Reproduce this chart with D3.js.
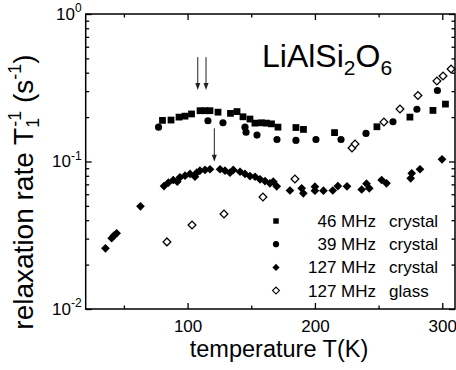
<!DOCTYPE html>
<html>
<head>
<meta charset="utf-8">
<script src="https://cdn.jsdelivr.net/npm/d3@7"></script>
<style>
  body { margin: 0; background: #fff; }
  svg { display: block; font-family: "Liberation Sans", Arial, Helvetica, sans-serif; }
</style>
</head>
<body>
<div id="chart"></div>
<script>
// 46 MHz crystal (squares)
const sqT = [80.3, 87.0, 93.3, 98.0, 103.1, 109.8, 113.7, 117.6, 123.9, 133.7, 138.8, 143.5, 149.0, 152.9,
  158.0, 162.0, 165.9, 171.0, 185.1, 191.0, 215.4, 248.7, 274.6, 292.7, 302.5];
const sqR = [0.190, 0.191, 0.200, 0.203, 0.210, 0.221, 0.221, 0.221, 0.216, 0.212, 0.218, 0.201, 0.194, 0.182,
  0.183, 0.182, 0.180, 0.171, 0.170, 0.165, 0.157, 0.172, 0.200, 0.222, 0.245];

// 39 MHz crystal (circles)
const ciT = [77.2, 116.0, 127.8, 145.1, 145.9, 154.5, 170.2, 185.1, 200.8, 220.5, 240.1, 261.3, 280.1, 296.2];
const ciR = [0.171, 0.189, 0.183, 0.171, 0.158, 0.151, 0.141, 0.139, 0.141, 0.141, 0.155, 0.186, 0.226, 0.303];

// 127 MHz crystal (filled diamonds)
const diT = [35.5, 40.4, 42.2, 44.3, 63.0, 81.5, 84.9, 88.8, 91.9, 94.0, 98.0, 101.9, 105.8, 107.2, 109.7,
  113.7, 117.6, 125.5, 129.4, 133.3, 135.9, 141.2, 145.1, 149.0, 153.0, 156.9, 160.8, 164.7, 167.3, 170.0,
  180.4, 189.6, 190.9, 200.0, 200.0, 206.7, 214.0, 218.0, 225.2, 236.7, 240.5, 242.7, 252.4, 256.2, 275.2,
  276.0, 282.5, 299.8];
const diR = [0.0258, 0.0302, 0.0315, 0.0326, 0.0497, 0.0682, 0.0718, 0.0749, 0.0730, 0.0781, 0.0801, 0.0823,
  0.0788, 0.0840, 0.0866, 0.0876, 0.0886, 0.0886, 0.0866, 0.0840, 0.0876, 0.0852, 0.0823, 0.0797, 0.0788,
  0.0757, 0.0737, 0.0711, 0.0730, 0.0679, 0.0636, 0.0658, 0.0609, 0.0675, 0.0634, 0.0634, 0.0636, 0.0682,
  0.0679, 0.0646, 0.0707, 0.0658, 0.0749, 0.0711, 0.0769, 0.0832, 0.0886, 0.1035];

// 127 MHz glass (open diamonds)
const glT = [83.8, 103.5, 128.6, 159.2, 184.3, 229.1, 231.5, 254.2, 266.8, 280.9, 295.8, 300.6, 306.9];
const glR = [0.0285, 0.0371, 0.0441, 0.0574, 0.0761, 0.1235, 0.1314, 0.1853, 0.227, 0.280, 0.351, 0.380, 0.424];

// arrows marking maxima
const arrowT = [108, 114.5, 121];
const arrowTop = [0.51, 0.51, 0.168];
const arrowTip = [0.305, 0.305, 0.0997];

const legendFreq = ["46 MHz", "39 MHz", "127 MHz", "127 MHz"];
const legendKind = ["crystal", "crystal", "crystal", "glass"];

const xMajor = [100, 200, 300];
const xMinor = [50, 150, 250];
const yMajor = [0.01, 0.1, 1];
const yExp = ["-2", "-1", "0"];

const W = 456, H = 370;
const mLeft = 85.7, mTop = 14, mRight = 455, mBottom = 309;

const svg = d3.select("#chart").append("svg").attr("width", W).attr("height", H);

const x = d3.scaleLinear().domain([20, 310]).range([mLeft, mRight]);
const y = d3.scaleLog().domain([0.01, 1]).range([mBottom, mTop]);

const yMinor = [];
[0.01, 0.1].forEach(d => { for (let k = 2; k <= 9; k++) yMinor.push(d * k); });

function tickAxis(axis, tr) {
  const g = svg.append("g").attr("transform", tr).call(axis);
  g.select(".domain").remove();
  g.selectAll("line").attr("stroke", "#000").attr("stroke-width", 1.3);
  g.selectAll("text").attr("font-size", 17).attr("fill", "#000");
  g.attr("font-family", null).attr("font-size", null);
  return g;
}

// bottom
tickAxis(d3.axisBottom(x).tickValues(xMajor).tickSizeInner(-6).tickSizeOuter(0).tickPadding(11).tickFormat(d3.format("d")),
  `translate(0,${mBottom})`);
tickAxis(d3.axisBottom(x).tickValues(xMinor).tickSizeInner(-3.5).tickSizeOuter(0).tickFormat(""), `translate(0,${mBottom})`);
// top
tickAxis(d3.axisTop(x).tickValues(xMajor).tickSizeInner(-6).tickSizeOuter(0).tickFormat(""), `translate(0,${mTop})`);
tickAxis(d3.axisTop(x).tickValues(xMinor).tickSizeInner(-3.5).tickSizeOuter(0).tickFormat(""), `translate(0,${mTop})`);
// left
const gl = tickAxis(d3.axisLeft(y).tickValues(yMajor).tickSizeInner(-6).tickSizeOuter(0).tickPadding(4).tickFormat(""),
  `translate(${mLeft},0)`);
gl.selectAll(".tick text").each(function(d, i) {
  const t = d3.select(this);
  t.append("tspan").text("10");
  t.append("tspan").attr("font-size", 12).attr("dy", "-0.65em").text(yExp[i]);
});
tickAxis(d3.axisLeft(y).tickValues(yMinor).tickSizeInner(-3.5).tickSizeOuter(0).tickFormat(""), `translate(${mLeft},0)`);
// right
tickAxis(d3.axisRight(y).tickValues(yMajor).tickSizeInner(-6).tickSizeOuter(0).tickFormat(""), `translate(${mRight},0)`);
tickAxis(d3.axisRight(y).tickValues(yMinor).tickSizeInner(-3.5).tickSizeOuter(0).tickFormat(""), `translate(${mRight},0)`);

svg.append("rect")
  .attr("x", mLeft).attr("y", mTop)
  .attr("width", mRight - mLeft).attr("height", mBottom - mTop)
  .attr("fill", "none").attr("stroke", "#000").attr("stroke-width", 1.5);

// data
const sym = {
  square: d3.symbol().type(d3.symbolSquare).size(46),
  circle: d3.symbol().type(d3.symbolCircle).size(40),
  diamond: d3.symbol().type(d3.symbolSquare).size(38),
  open: d3.symbol().type(d3.symbolSquare).size(30)
};

function drawSeries(ts, rs, kind) {
  const pts = ts.map((t, i) => [t, rs[i]]);
  const rot = (kind === "diamond" || kind === "open") ? " rotate(45)" : "";
  svg.append("g").selectAll("path")
    .data(pts)
    .join("path")
    .attr("d", sym[kind])
    .attr("transform", d => `translate(${x(d[0])},${y(d[1])})${rot}`)
    .attr("fill", kind === "open" ? "#fff" : "#000")
    .attr("stroke", "#000")
    .attr("stroke-width", kind === "open" ? 1.3 : 0);
}
drawSeries(sqT, sqR, "square");
drawSeries(ciT, ciR, "circle");
drawSeries(diT, diR, "diamond");
drawSeries(glT, glR, "open");

// arrows
const ag = svg.append("g");
arrowT.forEach((t, i) => {
  const ax = x(t), y0 = y(arrowTop[i]), y1 = y(arrowTip[i]);
  ag.append("line").attr("x1", ax).attr("x2", ax).attr("y1", y0).attr("y2", y1 - 4)
    .attr("stroke", "#222").attr("stroke-width", 1);
  ag.append("path").attr("d", `M${ax},${y1} L${ax - 2.5},${y1 - 7} L${ax + 2.5},${y1 - 7} Z`).attr("fill", "#222");
});

// title
const title = svg.append("text").attr("x", 262).attr("y", 67).attr("font-size", 32).attr("fill", "#000");
title.append("tspan").text("LiAlSi");
title.append("tspan").attr("font-size", 21).attr("dy", 8).text("2");
title.append("tspan").attr("dy", -8).text("O");
title.append("tspan").attr("font-size", 21).attr("dy", 8).text("6");

// legend
const kinds = ["square", "circle", "diamond", "open"];
const legSym = {
  square: d3.symbol().type(d3.symbolSquare).size(30),
  circle: d3.symbol().type(d3.symbolCircle).size(30),
  diamond: d3.symbol().type(d3.symbolSquare).size(26),
  open: d3.symbol().type(d3.symbolSquare).size(24)
};
const lg = svg.append("g");
legendFreq.forEach((f, i) => {
  const cy = 221 + i * 23.2;
  const k = kinds[i];
  const rot = (k === "diamond" || k === "open") ? " rotate(45)" : "";
  lg.append("path").attr("d", legSym[k]).attr("transform", `translate(276,${cy})${rot}`)
    .attr("fill", k === "open" ? "#fff" : "#000").attr("stroke", "#000").attr("stroke-width", k === "open" ? 1.1 : 0);
  lg.append("text").attr("x", 376).attr("y", cy + 6).attr("text-anchor", "end").attr("font-size", 17).text(f);
  lg.append("text").attr("x", 389).attr("y", cy + 6).attr("font-size", 17).text(legendKind[i]);
});

// axis titles
svg.append("text").attr("x", 279).attr("y", 357).attr("text-anchor", "middle").attr("font-size", 23.5)
  .text("temperature T(K)");

const yt = svg.append("text").attr("transform", "translate(33,192) rotate(-90)")
  .attr("text-anchor", "middle").attr("font-size", 28);
yt.append("tspan").text("relaxation rate T");
yt.append("tspan").attr("font-size", 18).attr("dy", 6).text("1");
yt.append("tspan").attr("font-size", 18).attr("dx", -9).attr("dy", -18).text("-1");
yt.append("tspan").attr("dy", 12).text(" (s");
yt.append("tspan").attr("font-size", 18).attr("dy", -12).text("-1");
yt.append("tspan").attr("dy", 12).text(")");
</script>
</body>
</html>
